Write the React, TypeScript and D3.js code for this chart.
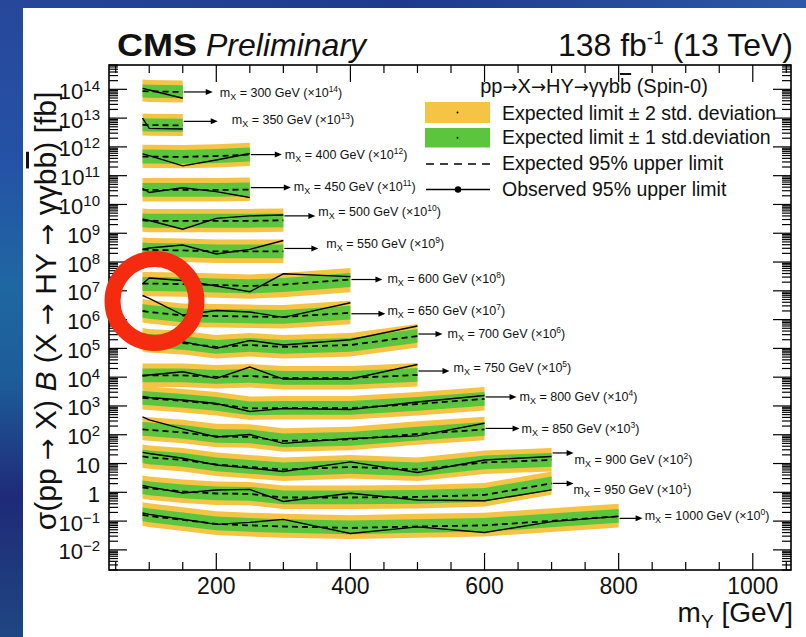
import React from 'react';
import * as d3 from 'd3';

const W = 806;
const H = 637;

// mY grid (GeV) shared by all mX slices; each slice uses the first N points
const mYGrid = [90, 100, 150, 200, 250, 300, 400, 500, 600, 700, 800];
const mXValues = [300, 350, 400, 450, 500, 550, 600, 650, 700, 750, 800, 850, 900, 950, 1000];
const scalePowers = [14, 13, 12, 11, 10, 9, 8, 7, 6, 5, 4, 3, 2, 1, 0];

// Expected 95% CL upper limits (fb, before scaling)
const expectedLimits: number[][] = [
  [0.87, 0.85, 0.81],
  [0.58, 0.57, 0.56],
  [0.46, 0.46, 0.45, 0.48, 0.54],
  [0.32, 0.32, 0.32, 0.32, 0.33],
  [0.28, 0.27, 0.27, 0.27, 0.27, 0.28],
  [0.274, 0.263, 0.253, 0.233, 0.233, 0.233],
  [0.179, 0.179, 0.172, 0.159, 0.147, 0.165, 0.247],
  [0.199, 0.184, 0.139, 0.133, 0.128, 0.123, 0.173],
  [0.195, 0.181, 0.154, 0.112, 0.131, 0.112, 0.131, 0.269],
  [0.115, 0.115, 0.115, 0.102, 0.11, 0.094, 0.094, 0.119],
  [0.19, 0.182, 0.149, 0.117, 0.082, 0.085, 0.085, 0.117, 0.175],
  [0.153, 0.147, 0.12, 0.087, 0.084, 0.061, 0.069, 0.106, 0.153],
  [0.176, 0.163, 0.133, 0.093, 0.076, 0.062, 0.076, 0.062, 0.109, 0.133],
  [0.148, 0.137, 0.107, 0.091, 0.088, 0.066, 0.066, 0.069, 0.081, 0.204],
  [0.164, 0.151, 0.11, 0.08, 0.071, 0.065, 0.058, 0.065, 0.071, 0.102, 0.146],
];

// Observed 95% CL upper limits (fb, before scaling)
const observedLimits: number[][] = [
  [1.08, 0.95, 0.49],
  [1.0, 0.44, 0.42],
  [0.57, 0.5, 0.22, 0.35, 0.59],
  [0.365, 0.26, 0.38, 0.28, 0.175],
  [0.313, 0.278, 0.138, 0.33, 0.4, 0.43],
  [0.274, 0.308, 0.39, 0.19, 0.274, 0.56],
  [0.172, 0.278, 0.228, 0.147, 0.093, 0.39, 0.31],
  [0.687, 0.55, 0.144, 0.207, 0.184, 0.12, 0.386],
  [0.23, 0.212, 0.171, 0.1, 0.188, 0.131, 0.2, 0.6],
  [0.11, 0.119, 0.155, 0.091, 0.226, 0.086, 0.086, 0.276],
  [0.214, 0.197, 0.161, 0.122, 0.064, 0.082, 0.075, 0.138, 0.231],
  [0.415, 0.327, 0.159, 0.084, 0.102, 0.05, 0.074, 0.091, 0.25],
  [0.243, 0.224, 0.153, 0.089, 0.069, 0.053, 0.114, 0.049, 0.133, 0.176],
  [0.173, 0.154, 0.095, 0.121, 0.126, 0.048, 0.093, 0.054, 0.051, 0.121],
  [0.192, 0.171, 0.116, 0.077, 0.09, 0.115, 0.037, 0.063, 0.04, 0.096, 0.146],
];

// Band edges relative to the expected limit (per mX slice)
const band1Up = [1.7, 1.7, 1.75, 1.75, 1.75, 1.75, 1.7, 1.75, 1.75, 1.75, 1.75, 1.8, 1.75, 1.75, 1.8];
const band1Down = [0.6, 0.6, 0.58, 0.58, 0.58, 0.58, 0.55, 0.58, 0.58, 0.58, 0.58, 0.6, 0.58, 0.58, 0.6];
const band2Up = [2.5, 2.5, 2.6, 2.6, 2.6, 2.6, 2.5, 2.6, 2.6, 2.6, 2.6, 2.75, 2.6, 2.6, 2.75];
const band2Down = [0.43, 0.43, 0.4, 0.4, 0.4, 0.4, 0.36, 0.4, 0.4, 0.4, 0.4, 0.42, 0.4, 0.4, 0.41];

const xTickMajor = [200, 400, 600, 800, 1000];
const yTickPowers = [-2, -1, 0, 1, 2, 3, 4, 5, 6, 7, 8, 9, 10, 11, 12, 13, 14];

// label layout (arrow length, arrow dy from band end, text gap, text dy)
const labelLayout: [number, number, number, number][] = [
  [30, 0, 7, 1], [35, -4, 14, -2], [32, 0, 3, 0], [41, -2, 3, -1], [32, -4.5, 3, -4],
  [35, -3, 8, -5], [32, 0, 5, -1], [35, 1, 2, -3], [25, -2, 5, 0], [32, -4, 4, -3],
  [32, -2, 3, 0], [35, -1, 2, 0], [22, -7, 1, 7], [22, 0, 0, 6], [24, 2, 2, -3],
];

const YELLOW = '#F6C445';
const GREEN = '#5BC53D';
const FONT = "'Liberation Sans', Arial, Helvetica, sans-serif";
const ARROW_FONT = "'DejaVu Sans', sans-serif";

type P = { m: number; e: number; o: number };

export default function App() {
  const x = d3.scaleLinear().domain([40, 1057]).range([109, 791]);
  const y = d3.scaleLog().domain([2e-3, 7e14]).range([570, 65]);
  const [x0, x1] = x.range();
  const [yb, yt] = y.range();

  const xMinor = d3.range(50, 1051, 50).filter((v) => !xTickMajor.includes(v));
  const yMinor: number[] = [];
  for (let n = -3; n <= 14; n++) {
    for (let k = 2; k <= 9; k++) {
      const v = k * Math.pow(10, n);
      if (v >= 2e-3 && v <= 7e14) yMinor.push(v);
    }
  }

  const slices = mXValues.map((mx, i) => {
    const f = Math.pow(10, scalePowers[i]);
    const pts: P[] = expectedLimits[i].map((e, j) => ({
      m: mYGrid[j],
      e: e * f,
      o: observedLimits[i][j] * f,
    }));
    const a2 = d3
      .area<P>()
      .x((d) => x(d.m))
      .y0((d) => y(d.e * band2Down[i]))
      .y1((d) => y(d.e * band2Up[i]));
    const a1 = d3
      .area<P>()
      .x((d) => x(d.m))
      .y0((d) => y(d.e * band1Down[i]))
      .y1((d) => y(d.e * band1Up[i]));
    const le = d3.line<P>().x((d) => x(d.m)).y((d) => y(d.e));
    const lo = d3.line<P>().x((d) => x(d.m)).y((d) => y(d.o));
    const last = pts[pts.length - 1];
    return { mx, k: scalePowers[i], pts, a2: a2(pts)!, a1: a1(pts)!, le: le(pts)!, lo: lo(pts)!, endX: x(last.m), endY: y(last.e) };
  });

  const Arr = ({ fs }: { fs?: number }) => (
    <tspan fontFamily={ARROW_FONT} fontSize={fs}>→</tspan>
  );

  return (
    <svg
      width={W}
      height={H}
      style={{ position: 'absolute', left: 0, top: 0 }}
      fontFamily={FONT}
    >
      <defs>
        <linearGradient id="bgL" x1="0" y1="0" x2="0" y2="1">
          <stop offset="0" stopColor="#27479a" />
          <stop offset="0.25" stopColor="#2552a6" />
          <stop offset="0.45" stopColor="#1f67a2" />
          <stop offset="0.6" stopColor="#1d5c98" />
          <stop offset="0.78" stopColor="#1f2a78" />
          <stop offset="1" stopColor="#1f4682" />
        </linearGradient>
        <linearGradient id="bgT" x1="0" y1="0" x2="1" y2="0">
          <stop offset="0" stopColor="#27479a" />
          <stop offset="0.5" stopColor="#1f3a8c" />
          <stop offset="1" stopColor="#2d57a8" />
        </linearGradient>
      </defs>
      <rect x={0} y={0} width={W} height={H} fill="#ffffff" />
      <rect x={0} y={0} width={23} height={H} fill="url(#bgL)" />
      <rect x={0} y={0} width={W} height={8} fill="url(#bgT)" />

      {/* bands and lines */}
      {slices.map((s) => (
        <g key={s.mx}>
          <path d={s.a2} fill={YELLOW} />
          <path d={s.a1} fill={GREEN} />
          <path d={s.le} fill="none" stroke="#000" strokeWidth={1.8} strokeDasharray="6 4" />
          <path d={s.lo} fill="none" stroke="#000" strokeWidth={1.4} />
        </g>
      ))}

      {/* slice labels */}
      {slices.map((s, i) => {
        const [len, ady, gap, tdy] = labelLayout[i];
        const ax0 = s.endX + 1;
        const ax1 = s.endX + len;
        const ay = s.endY + ady;
        const ty = ay + tdy + 4.3;
        return (
          <g key={'lab' + s.mx}>
            <line x1={ax0} y1={ay} x2={ax1 - 5} y2={ay} stroke="#000" strokeWidth={1.2} />
            <path d={`M${ax1},${ay} L${ax1 - 7},${ay - 3} L${ax1 - 7},${ay + 3} Z`} fill="#000" />
            <text x={ax1 + gap} y={ty} fontSize={12.5} fill="#111">
              m<tspan fontSize={9} dy={3}>X</tspan>
              <tspan dy={-3}>{' = ' + s.mx + ' GeV (×10'}</tspan>
              <tspan fontSize={8.5} dy={-5}>{String(s.k)}</tspan>
              <tspan dy={5}>)</tspan>
            </text>
          </g>
        );
      })}

      {/* frame */}
      <rect x={x0} y={yt} width={x1 - x0} height={yb - yt} fill="none" stroke="#000" strokeWidth={1.6} />

      {/* x ticks */}
      {xTickMajor.map((v) => (
        <g key={'xM' + v}>
          <line x1={x(v)} x2={x(v)} y1={yb} y2={yb - 17} stroke="#000" strokeWidth={1.2} />
          <line x1={x(v)} x2={x(v)} y1={yt} y2={yt + 17} stroke="#000" strokeWidth={1.2} />
          <text x={x(v)} y={593.5} fontSize={23} textAnchor="middle" fill="#111">
            {v}
          </text>
        </g>
      ))}
      {xMinor.map((v) => (
        <g key={'xm' + v}>
          <line x1={x(v)} x2={x(v)} y1={yb} y2={yb - 8} stroke="#000" strokeWidth={1.2} />
          <line x1={x(v)} x2={x(v)} y1={yt} y2={yt + 8} stroke="#000" strokeWidth={1.2} />
        </g>
      ))}

      {/* y ticks */}
      {yTickPowers.map((n) => {
        const v = Math.pow(10, n);
        const yy = y(v);
        return (
          <g key={'yM' + n}>
            <line x1={x0} x2={x0 + 18} y1={yy} y2={yy} stroke="#000" strokeWidth={1.2} />
            <line x1={x1} x2={x1 - 18} y1={yy} y2={yy} stroke="#000" strokeWidth={1.2} />
            <text x={100} y={yy + 9.5} fontSize={22} textAnchor="end" fill="#111">
              {n === 0 ? '1' : n === 1 ? '10' : (
                <>
                  <tspan>10</tspan>
                  <tspan fontSize={15} dy={-8}>{n < 0 ? '\u2212' + Math.abs(n) : String(n)}</tspan>
                </>
              )}
            </text>
          </g>
        );
      })}
      {yMinor.map((v, i) => (
        <g key={'ym' + i}>
          <line x1={x0} x2={x0 + 9} y1={y(v)} y2={y(v)} stroke="#000" strokeWidth={1.2} />
          <line x1={x1} x2={x1 - 9} y1={y(v)} y2={y(v)} stroke="#000" strokeWidth={1.2} />
        </g>
      ))}

      {/* axis titles */}
      <text x={793} y={622} fontSize={28} textAnchor="end" fill="#111">
        m<tspan fontSize={19} dy={6}>Y</tspan>
        <tspan dy={-6}> [GeV]</tspan>
      </text>
      <text
        transform="translate(56,311) rotate(-90)"
        fontSize={30}
        textAnchor="middle"
        fill="#111"
      >
        <tspan>σ(pp </tspan>
        <Arr fs={26} />
        <tspan> X) </tspan>
        <tspan fontStyle="italic">B</tspan>
        <tspan> (X </tspan>
        <Arr fs={26} />
        <tspan> HY </tspan>
        <Arr fs={26} />
        <tspan> γγb</tspan>
        <tspan style={{ textDecoration: 'overline' }}>b</tspan>
        <tspan>) [fb]</tspan>
      </text>

      {/* header */}
      <text x={117} y={56} fontSize={32} fontWeight="bold" fill="#111" textLength={80} lengthAdjust="spacingAndGlyphs">
        CMS
      </text>
      <text x={206} y={56} fontSize={32} fontStyle="italic" fill="#111">
        Preliminary
      </text>
      <text x={793} y={56} fontSize={32} textAnchor="end" fill="#111">
        138 fb<tspan fontSize={19} dy={-12}>-1</tspan>
        <tspan dy={12}> (13 TeV)</tspan>
      </text>

      {/* legend */}
      <text x={594} y={93} fontSize={20} textAnchor="middle" fill="#111">
        <tspan>pp</tspan>
        <Arr fs={18} />
        <tspan>X</tspan>
        <Arr fs={18} />
        <tspan>HY</tspan>
        <Arr fs={18} />
        <tspan>γγb</tspan>
        <tspan style={{ textDecoration: 'overline' }}>b</tspan>
        <tspan> (Spin-0)</tspan>
      </text>
      <rect x={425} y={102} width={65} height={21} fill={YELLOW} />
      <circle cx={457.5} cy={112.5} r={1} fill="#000" />
      <rect x={425} y={128} width={65} height={19.5} fill={GREEN} />
      <circle cx={457.5} cy={137.7} r={1} fill="#000" />
      <line x1={426} x2={490} y1={164} y2={164} stroke="#000" strokeWidth={1.5} strokeDasharray="8 6" />
      <line x1={426} x2={490} y1={189.5} y2={189.5} stroke="#000" strokeWidth={1.5} />
      <circle cx={458} cy={189.5} r={3.2} fill="#000" />
      <text x={502} y={119.5} fontSize={19.5} fill="#111">Expected limit ± 2 std. deviation</text>
      <text x={502} y={144} fontSize={19.5} fill="#111">Expected limit ± 1 std.deviation</text>
      <text x={502} y={170} fontSize={19.5} fill="#111">Expected 95% upper limit</text>
      <text x={502} y={195.5} fontSize={19.5} fill="#111">Observed 95% upper limit</text>

      {/* annotation circle */}
      <circle cx={154.5} cy={301} r={42} fill="none" stroke="#F42B0F" strokeWidth={16} />
    </svg>
  );
}
